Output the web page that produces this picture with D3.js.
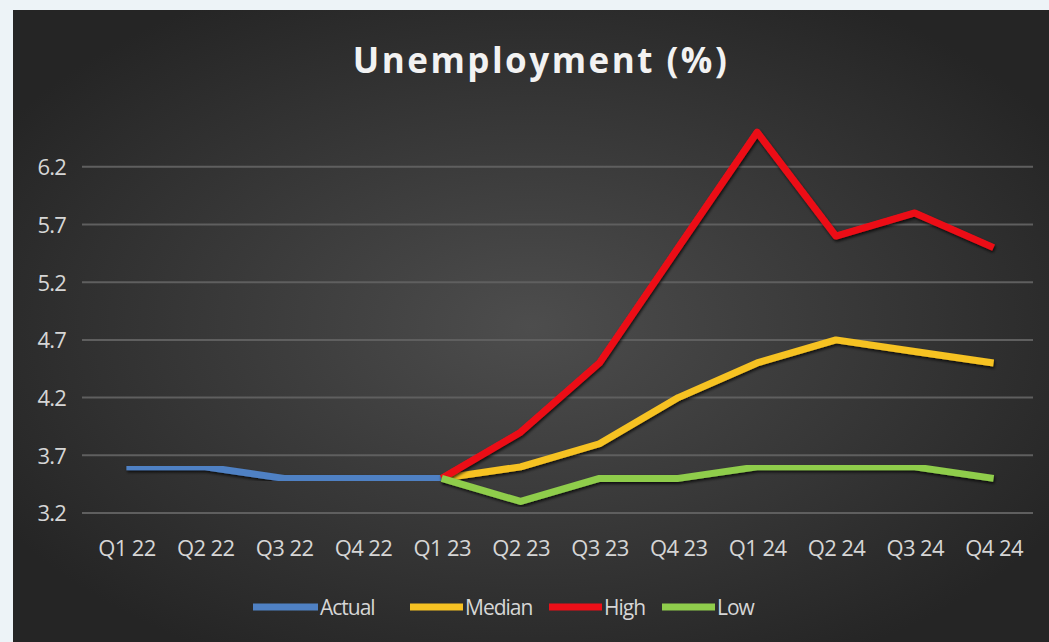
<!DOCTYPE html>
<html>
<head>
<meta charset="utf-8">
<script src="https://cdn.jsdelivr.net/npm/d3@7"></script>
<style>
  body { margin: 0; background: #edf3f7; }
  svg { display: block; }
</style>
</head>
<body>
<div id="root"></div>
<script>
const quarters = ["Q1 22", "Q2 22", "Q3 22", "Q4 22", "Q1 23", "Q2 23", "Q3 23", "Q4 23", "Q1 24", "Q2 24", "Q3 24", "Q4 24"];
const yTicks = [3.2, 3.7, 4.2, 4.7, 5.2, 5.7, 6.2];

// null = no value for that quarter
const actual = [3.6, 3.6, 3.5, 3.5, 3.5, null, null, null, null, null, null, null];
const median = [null, null, null, null, 3.5, 3.6, 3.8, 4.2, 4.5, 4.7, 4.6, 4.5];
const high = [null, null, null, null, 3.5, 3.9, 4.5, 5.5, 6.5, 5.6, 5.8, 5.5];
const low = [null, null, null, null, 3.5, 3.3, 3.5, 3.5, 3.6, 3.6, 3.6, 3.5];

const seriesNames = ["Actual", "Median", "High", "Low"];
const seriesColors = ["#4f81c4", "#f6c223", "#ec0f18", "#8fcd4c"];

const width = 1049;
const height = 642;
const labelFont = "'Open Sans', sans-serif";

const svg = d3.select("#root").append("svg")
  .attr("width", width)
  .attr("height", height);

const defs = svg.append("defs");
const grad = defs.append("radialGradient")
  .attr("id", "bg")
  .attr("cx", "50%").attr("cy", "50%").attr("r", "60%");
grad.append("stop").attr("offset", "0%").attr("stop-color", "#4d4d4d");
grad.append("stop").attr("offset", "100%").attr("stop-color", "#252525");

const shadow = defs.append("filter").attr("id", "shadow")
  .attr("x", "-5%").attr("y", "-5%").attr("width", "110%").attr("height", "120%");
shadow.append("feDropShadow")
  .attr("dx", 1).attr("dy", 2).attr("stdDeviation", 1.5)
  .attr("flood-color", "#000").attr("flood-opacity", 0.75);

// chart box
svg.append("rect")
  .attr("x", 13).attr("y", 10)
  .attr("width", width - 13).attr("height", height - 10)
  .attr("fill", "url(#bg)");

const plotLeft = 82, plotRight = 1033, plotBottom = 513;

const x = d3.scalePoint()
  .domain(quarters)
  .range([87, plotRight])
  .padding(0.5);

const y = d3.scaleLinear()
  .domain([3.2, 6.7])
  .range([plotBottom, plotBottom - 7 * 57.7]);

// gridlines
svg.append("g")
  .selectAll("line")
  .data(yTicks)
  .join("line")
  .attr("x1", plotLeft).attr("x2", plotRight)
  .attr("y1", d => y(d)).attr("y2", d => y(d))
  .attr("stroke", "#5f5f5f")
  .attr("stroke-width", 2);

// y axis labels
const yAxis = d3.axisLeft(y).tickValues(yTicks).tickFormat(d3.format(".1f")).tickSize(0).tickPadding(0);
const gy = svg.append("g")
  .attr("transform", "translate(66,0)")
  .call(yAxis);
gy.select(".domain").remove();
gy.selectAll("text")
  .attr("x", 0)
  .attr("text-anchor", "end")
  .attr("fill", "#d6d6d6")
  .attr("dy", "0.36em")
  .style("font-family", labelFont)
  .style("font-size", "22px")
  .style("letter-spacing", "-0.8px");

// x axis labels
const xAxis = d3.axisBottom(x).tickSize(0).tickPadding(0);
const gx = svg.append("g")
  .attr("transform", "translate(0,548)")
  .call(xAxis);
gx.select(".domain").remove();
gx.selectAll("text")
  .attr("fill", "#d6d6d6")
  .attr("dy", "0.36em")
  .style("font-family", labelFont)
  .style("font-size", "22px")
  .style("letter-spacing", "-0.6px");

// lines
const line = d3.line()
  .defined(d => d.v != null)
  .x(d => x(d.q))
  .y(d => y(d.v));

const allSeries = [actual, median, high, low].map((vals, i) => ({
  name: seriesNames[i],
  color: seriesColors[i],
  points: quarters.map((q, j) => ({ q: q, v: vals[j] }))
}));

svg.append("g")
  .selectAll("path")
  .data(allSeries)
  .join("path")
  .attr("d", d => line(d.points))
  .attr("fill", "none")
  .attr("stroke", d => d.color)
  .attr("stroke-width", 7)
  .attr("stroke-linejoin", "round")
  .attr("filter", "url(#shadow)");

// title
svg.append("text")
  .attr("x", 541).attr("y", 73)
  .attr("text-anchor", "middle")
  .attr("fill", "#f2f2f2")
  .style("font-family", labelFont)
  .style("font-weight", "bold")
  .style("font-size", "35px")
  .style("letter-spacing", "2.5px")
  .text("Unemployment (%)");

// legend: text start positions
const legendText = [320, 465, 604, 717];
const legend = svg.append("g")
  .selectAll("g")
  .data(allSeries)
  .join("g")
  .attr("transform", (d, i) => `translate(${legendText[i]},607)`);
legend.append("line")
  .attr("x1", (d, i) => i === 0 ? -67 : -55).attr("x2", -2)
  .attr("stroke", d => d.color)
  .attr("stroke-width", 7);
legend.append("text")
  .attr("dy", "0.36em")
  .attr("fill", "#d6d6d6")
  .style("font-family", labelFont)
  .style("font-size", "21px")
  .style("letter-spacing", "-1px")
  .text(d => d.name);
</script>
</body>
</html>
